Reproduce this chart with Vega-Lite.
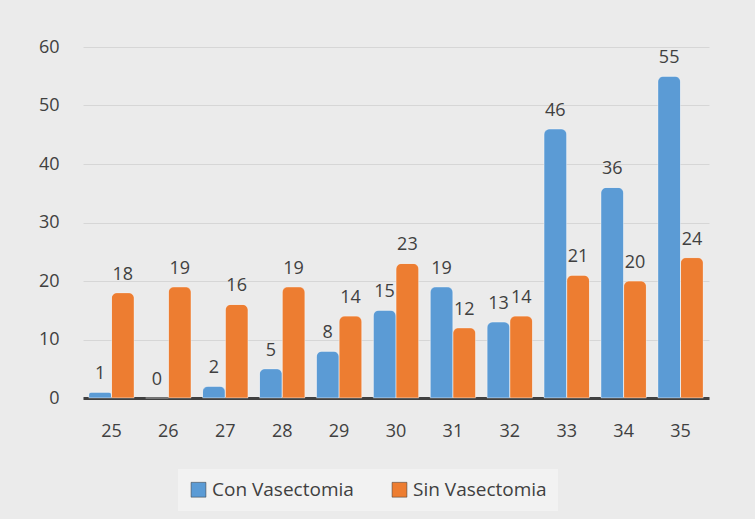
{
  "$schema": "https://vega.github.io/schema/vega-lite/v6.json",
  "width": 626,
  "height": 351,
  "autosize": "none",
  "padding": {"left": 83, "top": 47, "right": 46, "bottom": 121},
  "background": "#ebebeb",
  "config": {"view": {"stroke": null}, "font": "Open Sans"},
  "data": {"values": [
    {"cat": "25", "serie": "Con Vasectomia", "valor": 1},
    {"cat": "25", "serie": "Sin Vasectomia", "valor": 18},
    {"cat": "26", "serie": "Con Vasectomia", "valor": 0},
    {"cat": "26", "serie": "Sin Vasectomia", "valor": 19},
    {"cat": "27", "serie": "Con Vasectomia", "valor": 2},
    {"cat": "27", "serie": "Sin Vasectomia", "valor": 16},
    {"cat": "28", "serie": "Con Vasectomia", "valor": 5},
    {"cat": "28", "serie": "Sin Vasectomia", "valor": 19},
    {"cat": "29", "serie": "Con Vasectomia", "valor": 8},
    {"cat": "29", "serie": "Sin Vasectomia", "valor": 14},
    {"cat": "30", "serie": "Con Vasectomia", "valor": 15},
    {"cat": "30", "serie": "Sin Vasectomia", "valor": 23},
    {"cat": "31", "serie": "Con Vasectomia", "valor": 19},
    {"cat": "31", "serie": "Sin Vasectomia", "valor": 12},
    {"cat": "32", "serie": "Con Vasectomia", "valor": 13},
    {"cat": "32", "serie": "Sin Vasectomia", "valor": 14},
    {"cat": "33", "serie": "Con Vasectomia", "valor": 46},
    {"cat": "33", "serie": "Sin Vasectomia", "valor": 21},
    {"cat": "34", "serie": "Con Vasectomia", "valor": 36},
    {"cat": "34", "serie": "Sin Vasectomia", "valor": 20},
    {"cat": "35", "serie": "Con Vasectomia", "valor": 55},
    {"cat": "35", "serie": "Sin Vasectomia", "valor": 24}
  ]},
  "encoding": {
    "x": {
      "field": "cat", "type": "ordinal",
      "scale": {"paddingInner": 0.2, "paddingOuter": 0.1},
      "axis": {"labelAngle": 0, "labelFontSize": 18, "labelColor": "#404040", "labelPadding": 24, "ticks": false, "domain": true, "domainColor": "#404040", "domainWidth": 3, "title": null}
    },
    "xOffset": {"field": "serie", "sort": ["Con Vasectomia", "Sin Vasectomia"]},
    "y": {
      "field": "valor", "type": "quantitative",
      "scale": {"domain": [0, 60]},
      "axis": {"values": [0, 10, 20, 30, 40, 50, 60], "labelFontSize": 18, "labelColor": "#404040", "labelPadding": 24, "ticks": false, "domain": false, "gridColor": "#d6d6d6", "title": null}
    }
  },
  "layer": [
    {
      "mark": {"type": "bar", "cornerRadiusTopLeft": 6, "cornerRadiusTopRight": 6, "stroke": "#ffffff", "strokeOpacity": 0.3, "strokeWidth": 1},
      "encoding": {
        "color": {
          "field": "serie", "type": "nominal",
          "scale": {"domain": ["Con Vasectomia", "Sin Vasectomia"], "range": ["#5b9bd5", "#ed7d31"]},
          "legend": {"orient": "none", "legendX": 95, "legendY": 422, "direction": "horizontal", "title": null, "symbolType": "square", "symbolSize": 220, "symbolStrokeColor": "#333333", "symbolStrokeWidth": 0.5, "labelFontSize": 19, "labelColor": "#404040", "columnPadding": 36, "fillColor": "#f2f2f2", "padding": 11}
        }
      }
    },
    {
      "mark": {"type": "text", "dy": -9, "baseline": "bottom", "fontSize": 18, "color": "#404040"},
      "encoding": {"text": {"field": "valor", "type": "quantitative"}}
    }
  ]
}
